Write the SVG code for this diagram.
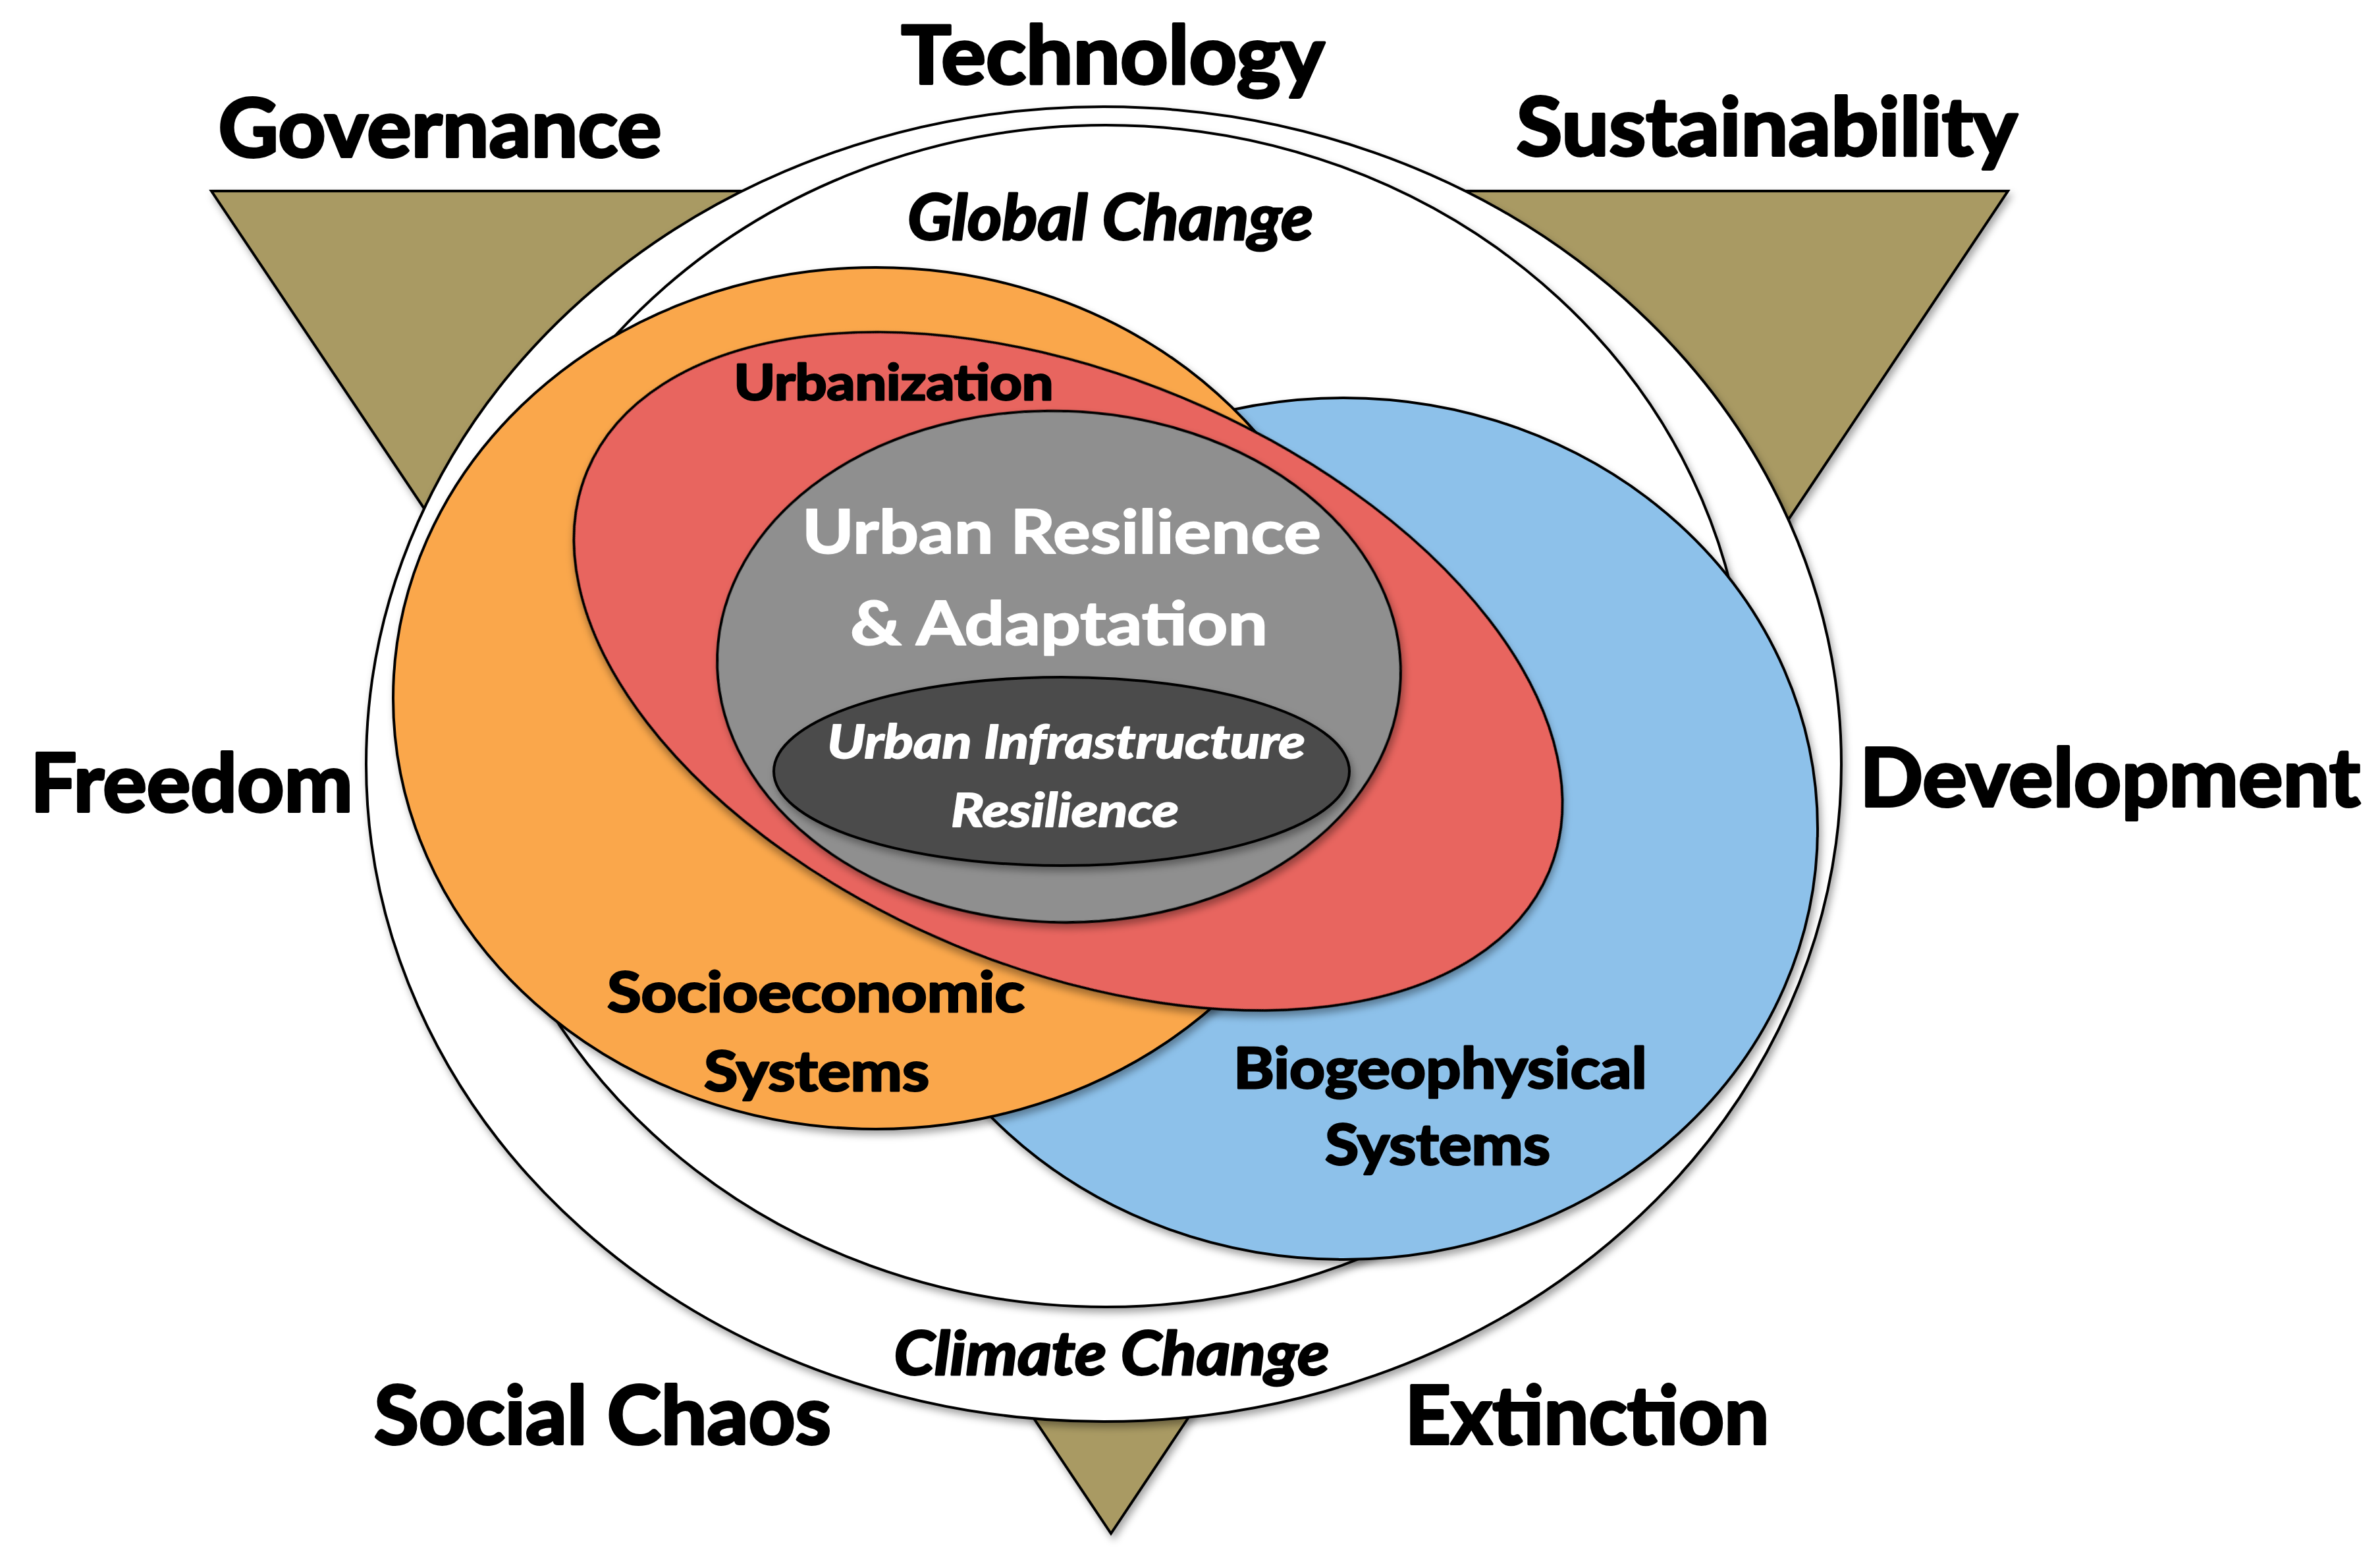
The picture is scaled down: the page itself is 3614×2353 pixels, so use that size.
<svg xmlns="http://www.w3.org/2000/svg" width="3614" height="2353" viewBox="0 0 3614 2353">
<defs>
<filter id="sh" x="-10%" y="-10%" width="120%" height="120%">
<feDropShadow dx="4" dy="7" stdDeviation="6" flood-color="#000" flood-opacity="0.35"/>
</filter>
</defs>
<style>
.s{stroke:#000;stroke-width:4;filter:url(#sh)}
.t{font-family:Lato,"Open Sans","Liberation Sans",sans-serif;font-weight:700;text-anchor:middle;fill:#000;stroke:#000;stroke-width:3;stroke-linejoin:round}
.big{font-size:122px;stroke-width:4}
.it{font-style:italic}
.w{fill:#fff;stroke:#fff;stroke-width:2}
</style>
<rect width="3614" height="2353" fill="#fff"/>
<g id="triangle">
<polygon class="s" points="321,290 3049,290 1687,2328" fill="#A99A64"/>
</g>
<g id="global-frame">
<ellipse class="s" cx="1676" cy="1160" rx="1120" ry="998" fill="#fff"/>
<ellipse class="s" cx="1679" cy="1087" rx="973" ry="897" fill="#fff"/>
</g>
<g id="biogeophysical">
<ellipse class="s" cx="2040" cy="1258" rx="720" ry="654" fill="#8DC1EA"/>
</g>
<g id="socioeconomic">
<ellipse class="s" cx="1330" cy="1060" rx="733" ry="654" fill="#FAA74C"/>
</g>
<g id="urbanization">
<ellipse class="s" cx="0" cy="0" rx="791" ry="450" transform="translate(1622 1019) rotate(22.6)" fill="#E8655F"/>
</g>
<g id="urban-resilience">
<ellipse class="s" cx="0" cy="0" rx="519" ry="388" transform="translate(1608 1012) rotate(2)" fill="#8F8F8F"/>
</g>
<g id="infrastructure">
<ellipse class="s" cx="1612" cy="1171" rx="437" ry="143" fill="#4B4B4B"/>
</g>
<g id="labels">
<text class="t big" x="1690" y="127" textLength="643" lengthAdjust="spacingAndGlyphs">Technology</text>
<text class="t big" x="668" y="238" textLength="673" lengthAdjust="spacingAndGlyphs">Governance</text>
<text class="t big" x="2683" y="236" textLength="761" lengthAdjust="spacingAndGlyphs">Sustainability</text>
<text class="t big" x="291" y="1232" textLength="490" lengthAdjust="spacingAndGlyphs">Freedom</text>
<text class="t big" x="3204" y="1224" textLength="760" lengthAdjust="spacingAndGlyphs">Development</text>
<text class="t big" x="915" y="2192" textLength="694" lengthAdjust="spacingAndGlyphs">Social Chaos</text>
<text class="t big" x="2410" y="2192" textLength="553" lengthAdjust="spacingAndGlyphs">Extinction</text>
<text class="t it" x="1686" y="364" font-size="95" textLength="616" lengthAdjust="spacingAndGlyphs">Global Change</text>
<text class="t it" x="1688" y="2087" font-size="92" textLength="661" lengthAdjust="spacingAndGlyphs">Climate Change</text>
<text class="t" x="1357" y="607" font-size="74" textLength="485" lengthAdjust="spacingAndGlyphs">Urbanization</text>
<text class="t w" x="1612" y="840" font-size="92" textLength="788" lengthAdjust="spacingAndGlyphs">Urban Resilience</text>
<text class="t w" x="1608" y="979" font-size="92" textLength="634" lengthAdjust="spacingAndGlyphs">&amp; Adaptation</text>
<text class="t w it" x="1619" y="1151" font-size="70" textLength="726" lengthAdjust="spacingAndGlyphs">Urban Infrastructure</text>
<text class="t w it" x="1617" y="1255" font-size="70" textLength="346" lengthAdjust="spacingAndGlyphs">Resilience</text>
<text class="t" x="1239" y="1536" font-size="84" textLength="634" lengthAdjust="spacingAndGlyphs">Socioeconomic</text>
<text class="t" x="1240" y="1656" font-size="84" textLength="342" lengthAdjust="spacingAndGlyphs">Systems</text>
<text class="t" x="2187" y="1652" font-size="86" textLength="628" lengthAdjust="spacingAndGlyphs">Biogeophysical</text>
<text class="t" x="2183" y="1768" font-size="86" textLength="342" lengthAdjust="spacingAndGlyphs">Systems</text>
</g>
</svg>
